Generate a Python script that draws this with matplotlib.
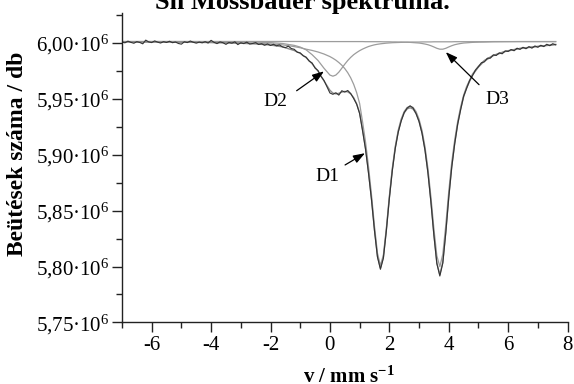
import numpy as np
import matplotlib
matplotlib.use("Agg")
import matplotlib.pyplot as plt
from matplotlib.ticker import MultipleLocator, FuncFormatter

plt.rcParams['font.family'] = ['Liberation Serif', 'DejaVu Serif']
plt.rcParams['mathtext.fontset'] = 'custom'
plt.rcParams['mathtext.rm'] = 'Liberation Serif'
plt.rcParams['mathtext.it'] = 'Liberation Serif:italic'
plt.rcParams['mathtext.bf'] = 'Liberation Serif:bold'
plt.rcParams['axes.unicode_minus'] = False

# counts far from the absorption lines
baseline = 6.001e6

# measured spectrum: depth below baseline, thousands of counts, channels -7.0 ... 7.6 mm/s
v_meas = np.linspace(-7.0, 7.6, 147)
meas_dev = [0.5, 1.2, -0.3, 0.8, 1.6, 0.2, 0.9, 2.1, -1.2, 0.4,
            1.0, -0.5, 0.6, 1.4, 0.2, 0.9, -0.2, 1.1, 0.5, 1.8,
            2.4, 0.3, 1.0, -0.4, 0.7, 1.5, 0.6, 1.2, 0.2, 1.4,
            -1.0, 0.8, 1.9, 0.4, 1.1, 2.6, 0.9, 1.5, 0.3, 2.8,
            1.2, 1.9, 0.6, 2.3, 1.8, 1.0, 2.7, 2.0, 3.4, 2.2,
            3.6, 2.5, 3.9, 3.1, 4.8, 5.5, 4.2, 6.3, 7.0, 9.6,
            10.2, 12.8, 14.0, 17.5, 19.2, 23.8, 26.0, 31.2, 34.8, 40.5,
            46.0, 47.2, 45.8, 47.9, 44.0, 45.2, 43.8, 46.5, 51.0, 56.0,
            64.5, 80.0, 96.5, 118.0, 141.5, 169.0, 192.5, 203.5, 193.5, 169.0,
            140.5, 115.5, 95.5, 81.0, 71.0, 63.5, 59.5, 57.5, 59.5, 64.5,
            71.5, 82.0, 97.0, 117.5, 143.5, 173.0, 198.5, 209.5, 198.0, 171.0,
            139.5, 112.5, 91.5, 74.0, 61.0, 49.0, 42.0, 35.0, 30.5, 25.5,
            22.5, 19.0, 18.2, 15.0, 14.9, 12.0, 12.5, 10.2, 11.0, 8.5,
            8.9, 7.2, 8.3, 6.0, 7.1, 5.2, 6.5, 4.6, 6.0, 4.0,
            5.2, 3.4, 4.6, 2.5, 3.8, 2.0, 3.0]

# fitted subspectra, same units
v_fit = [-7.0, -6.0, -5.0, -4.0, -3.0, -2.5, -2.0, -1.6, -1.2, -1.0, -0.8, -0.6, -0.4, -0.2,
         0.0, 0.1, 0.2, 0.3, 0.4, 0.5, 0.6, 0.7, 0.8, 0.9,
         1.0, 1.1, 1.2, 1.3, 1.4, 1.5, 1.6, 1.7, 1.8, 1.9,
         2.0, 2.1, 2.2, 2.3, 2.4, 2.5, 2.6, 2.7, 2.8, 2.9,
         3.0, 3.1, 3.2, 3.3, 3.4, 3.5, 3.6, 3.7, 3.8, 3.9,
         4.0, 4.1, 4.2, 4.3, 4.4, 4.5, 4.6, 4.8, 5.0, 5.2, 5.5, 5.9, 6.4, 7.0, 7.6]
d1_dev = [0.3, 0.4, 0.5, 0.8, 1.2, 1.6, 2.2, 3.0, 4.6, 5.6, 6.9, 8.0, 9.4, 11.2,
          13.5, 15.0, 16.7, 18.8, 21.2, 24.2, 27.9, 32.5, 38.3, 45.7,
          55.4, 72.0, 90.0, 112.0, 137.0, 165.0, 189.0, 200.1, 190.6, 166.5,
          138.2, 113.1, 93.5, 79.1, 69.1, 62.5, 58.9, 57.8, 58.9, 62.6,
          69.3, 79.4, 93.9, 113.5, 138.8, 167.2, 191.5, 201.1, 190.0, 164.1,
          134.0, 108.0, 88.0, 71.5, 58.5, 48.0, 40.3, 29.0, 22.0, 16.8, 12.3, 8.7, 6.1, 4.3, 2.6]
d2_dev = [0.1, 0.1, 0.1, 0.2, 0.4, 0.6, 1.0, 1.8, 3.5, 5.0, 7.5, 11.8, 17.0, 23.9,
          30.0, 31.0, 30.0, 27.4, 23.9, 20.3, 17.0, 14.2, 11.8, 9.9,
          8.2, 6.8, 5.6, 4.5, 3.7, 3.0, 2.5, 2.1, 1.8, 1.5,
          1.3, 1.1, 1.0, 0.9, 0.8, 0.7, 0.6, 0.6, 0.5, 0.5,
          0.5, 0.4, 0.4, 0.4, 0.4, 0.3, 0.3, 0.3, 0.3, 0.3,
          0.3, 0.3, 0.2, 0.2, 0.2, 0.2, 0.2, 0.2, 0.2, 0.2, 0.1, 0.1, 0.1, 0.1, 0.1]
d3_dev = [0.0, 0.0, 0.0, 0.0, 0.0, 0.0, 0.0, 0.0, 0.0, 0.0, 0.1, 0.1, 0.1, 0.1,
          0.1, 0.1, 0.1, 0.1, 0.1, 0.1, 0.1, 0.1, 0.1, 0.1,
          0.1, 0.1, 0.2, 0.2, 0.2, 0.2, 0.2, 0.2, 0.3, 0.3,
          0.3, 0.4, 0.4, 0.5, 0.5, 0.6, 0.7, 0.8, 1.0, 1.2,
          1.4, 1.8, 2.3, 2.9, 3.8, 4.9, 6.1, 6.9, 6.9, 6.1,
          4.9, 3.8, 2.9, 2.3, 1.8, 1.4, 1.2, 0.8, 0.6, 0.5, 0.3, 0.2, 0.1, 0.1, 0.1]

fit_dev = np.array(d1_dev) + np.array(d2_dev) + np.array(d3_dev)


def counts(dev):
    return baseline - np.asarray(dev) * 1e3


fig = plt.figure(figsize=(5.74, 3.84), dpi=100)
ax = fig.add_axes([0.2125, 0.1602, 0.7763, 0.8047])

comp_col = '#9c9c9c'
ax.plot(v_fit, counts(d3_dev), color=comp_col, lw=0.9)
ax.plot(v_fit, counts(d2_dev), color=comp_col, lw=0.9)
ax.plot(v_fit, counts(d1_dev), color=comp_col, lw=0.9)
ax.plot(v_fit, counts(fit_dev), color='#8a8a8a', lw=1.0)
ax.plot(v_meas, counts(meas_dev), color='#333333', lw=0.8)

ax.set_xlim(-7, 8)
ax.set_ylim(5.75e6, 6.026e6)

for side in ['top', 'right']:
    ax.spines[side].set_visible(False)
for side in ['left', 'bottom']:
    ax.spines[side].set_linewidth(1.0)
    ax.spines[side].set_color('#222222')

ax.xaxis.set_major_locator(MultipleLocator(2))
ax.xaxis.set_minor_locator(MultipleLocator(1))
ax.yaxis.set_major_locator(MultipleLocator(50000))
ax.yaxis.set_minor_locator(MultipleLocator(25000))
ax.yaxis.set_major_formatter(FuncFormatter(
    lambda y, pos: f"{y / 1e6:.2f}".replace('.', ',') + "·" + r"$10^{6}$"))
ax.tick_params(which='major', direction='out', length=7, width=1, labelsize=15,
               color='#222222', pad=2)
ax.tick_params(axis='x', which='major', pad=3)
ax.tick_params(which='minor', direction='out', length=4, width=1, color='#222222')

# component labels with arrows
arrow = dict(arrowstyle='-|>,head_length=0.7,head_width=0.25', color='black',
             lw=0.9, mutation_scale=10, shrinkA=0, shrinkB=0)
ax.annotate('', xy=(-0.2, 5.9743e6), xytext=(-1.12, 5.957e6), arrowprops=arrow)
ax.annotate('', xy=(3.9, 5.9915e6), xytext=(5.02, 5.9624e6), arrowprops=arrow)
ax.annotate('', xy=(1.18, 5.9012e6), xytext=(0.51, 5.8907e6), arrowprops=arrow)
ax.text(-1.82, 5.9471e6, 'D2', fontsize=14, ha='center', va='center')
ax.text(5.62, 5.9489e6, 'D3', fontsize=14, ha='center', va='center')
ax.text(-0.08, 5.8804e6, 'D1', fontsize=14, ha='center', va='center')

fig.text(0.527, 1 - 9 / 384, 'Sn Mössbauer spektruma.', ha='center', va='baseline',
         fontsize=19, fontweight='bold')
fig.text(0.031, 0.60, 'Beütések száma / db', rotation=90, ha='center', va='center',
         fontsize=17, fontweight='bold')
fig.text(0.608, 0.003, r'v / mm s$^{\mathbf{-1}}$', ha='center', va='baseline',
         fontsize=15, fontweight='bold')

fig.savefig('out.png', dpi=100)
